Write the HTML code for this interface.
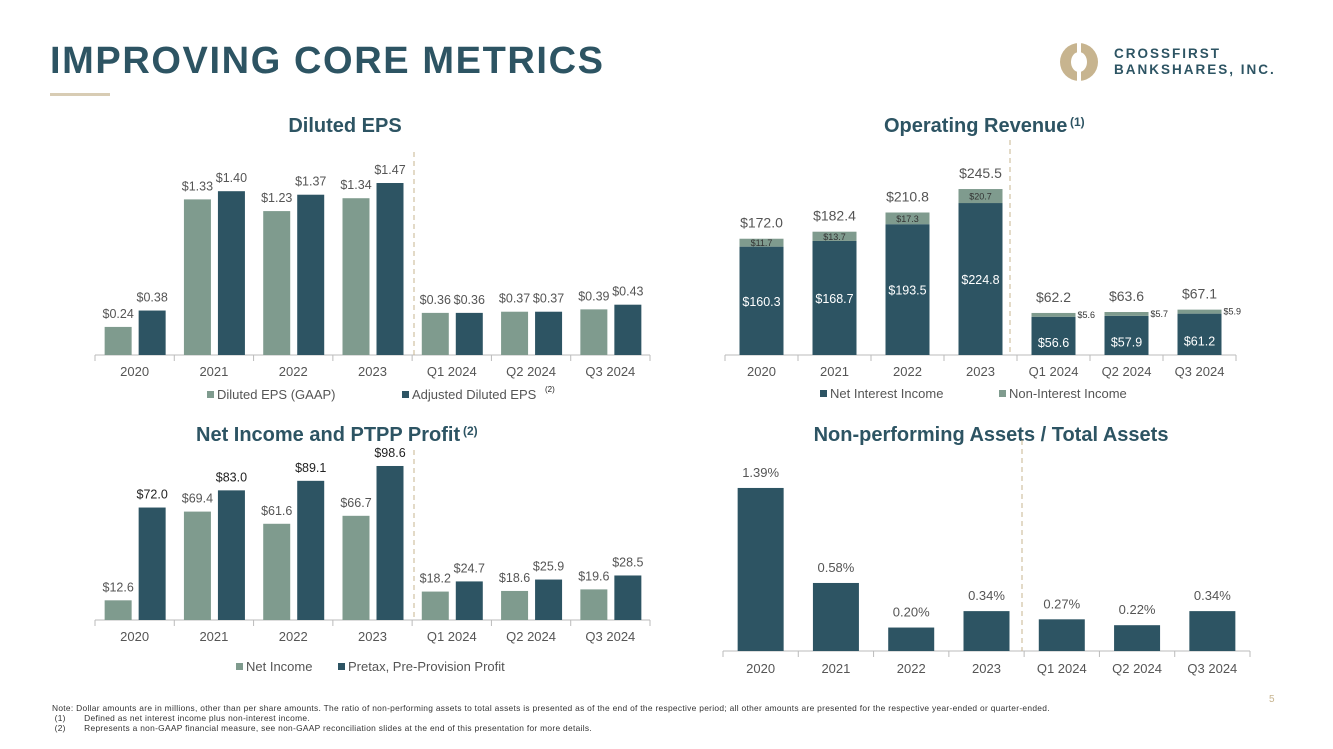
<!DOCTYPE html>
<html><head><meta charset="utf-8"><style>
body{margin:0;width:1333px;height:749px;background:#fff;font-family:"Liberation Sans",sans-serif;overflow:hidden;position:relative}
.t{position:absolute;white-space:nowrap}
svg{position:absolute;left:0;top:0}
</style></head><body>
<div class="t" style="left:50px;top:40px;font-size:38px;font-weight:bold;color:#2d5463;letter-spacing:1.6px">IMPROVING CORE METRICS</div>
<div style="position:absolute;left:50px;top:93px;width:60px;height:3px;background:#d8ccb4"></div>
<div style="position:absolute;left:1060px;top:43px;width:38px;height:38px;border-radius:50%;background:#c7b48f"><div style="position:absolute;left:11px;top:9px;width:16px;height:20px;border-radius:50%;background:#fff"></div><div style="position:absolute;left:17px;top:0;width:4px;height:38px;background:#fff"></div></div>
<div class="t" style="left:1114px;top:46px;font-size:13.5px;font-weight:bold;color:#2d5463;letter-spacing:2px;line-height:16px">CROSSFIRST<br>BANKSHARES, INC.</div>
<svg id="s" width="1333" height="749"></svg>
<div class="t" style="left:52px;top:703px;font-size:8.4px;letter-spacing:0.3px;color:#333;line-height:10px">Note: Dollar amounts are in millions, other than per share amounts. The ratio of non-performing assets to total assets is presented as of the end of the respective period; all other amounts are presented for the respective year-ended or quarter-ended.<br>&nbsp;(1)&nbsp;&nbsp;&nbsp;&nbsp;&nbsp;&nbsp;&nbsp;Defined as net interest income plus non-interest income.<br>&nbsp;(2)&nbsp;&nbsp;&nbsp;&nbsp;&nbsp;&nbsp;&nbsp;Represents a non-GAAP financial measure, see non-GAAP reconciliation slides at the end of this presentation for more details.</div>
<div class="t" style="left:1269px;top:694px;font-size:10px;color:#c7b48f">5</div>
<script>
const cats=["2020","2021","2022","2023","Q1 2024","Q2 2024","Q3 2024"];
const epsGaap=[0.24,1.33,1.23,1.34,0.36,0.37,0.39];
const epsAdj=[0.38,1.40,1.37,1.47,0.36,0.37,0.43];
const nii=[160.3,168.7,193.5,224.8,56.6,57.9,61.2];
const nonii=[11.7,13.7,17.3,20.7,5.6,5.7,5.9];
const netInc=[12.6,69.4,61.6,66.7,18.2,18.6,19.6];
const pptp=[72.0,83.0,89.1,98.6,24.7,25.9,28.5];
const npa=[1.39,0.58,0.20,0.34,0.27,0.22,0.34];
const DK="#2d5463",GR="#7f9b8e",TX="#555";
const s=document.getElementById('s');const NS="http://www.w3.org/2000/svg";
function el(t,a,txt){const e=document.createElementNS(NS,t);for(const k in a)e.setAttribute(k,a[k]);if(txt!=null)e.textContent=txt;s.appendChild(e);return e;}
function text(x,y,str,size,fill,anchor,weight,name){const e=el('text',{x:x,y:y,'font-size':size,fill:fill,'text-anchor':anchor||'middle','font-weight':weight||'normal','font-family':'Liberation Sans, sans-serif'},str);

return e;}
function rect(x,y,w,h,f,name){const e=el('rect',{x:x,y:y,width:w,height:h,fill:f});

return e;}
function axis(x0,x1,y,n,labels,ly){el('line',{x1:x0,x2:x1,y1:y,y2:y,stroke:'#bbb'});const w=(x1-x0)/n;
for(let i=0;i<=n;i++)el('line',{x1:x0+i*w,x2:x0+i*w,y1:y,y2:y+6,stroke:'#bbb'});
labels.forEach((l,i)=>text(x0+(i+.5)*w,ly,l,13,TX,'middle','normal','x-tick-label'));return w;}
function divider(x,y0,y1){const e=el('line',{x1:x,x2:x,y1:y0,y2:y1,stroke:'#c7b48f','stroke-dasharray':'5,4'});

}
function legend(x,y,items){items.forEach(it=>{rect(it[0],y-8,7,7,it[1],'legend-swatch');text(it[0]+10,y,it[2],13,TX,'start','normal','legend-entry');});}
function grouped(x0,x1,base,scale,A,B,fmt,fa,fb){const w=axis(x0,x1,base,7,cats,base+21);
cats.forEach((c,i)=>{const cx=x0+(i+.5)*w;const bw=27;
const ha=A[i]*scale,hb=B[i]*scale;
rect(cx-bw-3,base-ha,bw,ha,GR,'bar-'+fa);rect(cx+4,base-hb,bw,hb,DK,'bar-'+fb);
text(cx-bw/2-3,base-ha-9,fmt(A[i]),12.5,TX,'middle','normal','value-label');
text(cx+4+bw/2,base-hb-9,fmt(B[i]),12.5,i<4&&fb=='pptp'?'#222':TX,'middle','normal','value-label');});}
// EPS
text(345,132,"Diluted EPS",20,DK,'middle','bold','eps-title');
grouped(95,650,355,117,epsGaap,epsAdj,v=>'$'+v.toFixed(2),'eps-gaap','eps-adj');
divider(414,152,355);
legend(0,399,[[207,GR,"Diluted EPS (GAAP)"],[402,DK,"Adjusted Diluted EPS"]]);
text(545,392,"(2)",8,'#222','start','normal','footnote-ref');
// Net income
text(196,441,"Net Income and PTPP Profit",20,DK,'start','bold','net-income-title');
text(463,435,"(2)",12,DK,'start','bold','footnote-ref');
grouped(95,650,620,1.562,netInc,pptp,v=>'$'+v.toFixed(1),'net-income','pptp');
divider(414,450,620);
legend(0,671,[[236,GR,"Net Income"],[338,DK,"Pretax, Pre-Provision Profit"]]);
// Operating revenue
text(884,132,"Operating Revenue",20,DK,'start','bold','revenue-title');
text(1070,126,"(1)",12,DK,'start','bold','footnote-ref');
{const x0=725,x1=1236,base=355,sc=0.676;const w=axis(x0,x1,base,7,cats,base+21);
cats.forEach((c,i)=>{const cx=x0+(i+.5)*w,bw=44;const h1=nii[i]*sc,h2=nonii[i]*sc;
rect(cx-bw/2,base-h1,bw,h1,DK,'bar-net-interest-income');rect(cx-bw/2,base-h1-h2,bw,h2,GR,'bar-non-interest-income');
const tot=nii[i]+nonii[i];text(cx,base-h1-h2-11,'$'+tot.toFixed(1),14,TX,'middle','normal','total-label');
if(i<4){text(cx,base-h1/2+5,'$'+nii[i].toFixed(1),12.5,'#fff','middle','normal','value-label');
text(cx,base-h1-h2/2+3.5,'$'+nonii[i].toFixed(1),9,'#333','middle','normal','value-label');}
else{text(cx,base-h1/2+11,'$'+nii[i].toFixed(1),12.5,'#fff','middle','normal','value-label');
text(cx+bw/2+2,base-h1-h2+5,'$'+nonii[i].toFixed(1),9,'#333','start','normal','value-label');}});
divider(1010,140,355);
legend(0,398,[[820,DK,"Net Interest Income"],[999,GR,"Non-Interest Income"]]);}
// NPA
text(991,441,"Non-performing Assets / Total Assets",20,DK,'middle','bold','npa-title');
{const x0=723,x1=1250,base=651,sc=117.3;const w=axis(x0,x1,base,7,cats,base+22);
cats.forEach((c,i)=>{const cx=x0+(i+.5)*w,bw=46;const h=npa[i]*sc;
rect(cx-bw/2,base-h,bw,h,DK,'bar-npa');text(cx,base-h-11,npa[i].toFixed(2)+'%',13,TX,'middle','normal','value-label');});
divider(1022,440,651);}
</script>
</body></html>
